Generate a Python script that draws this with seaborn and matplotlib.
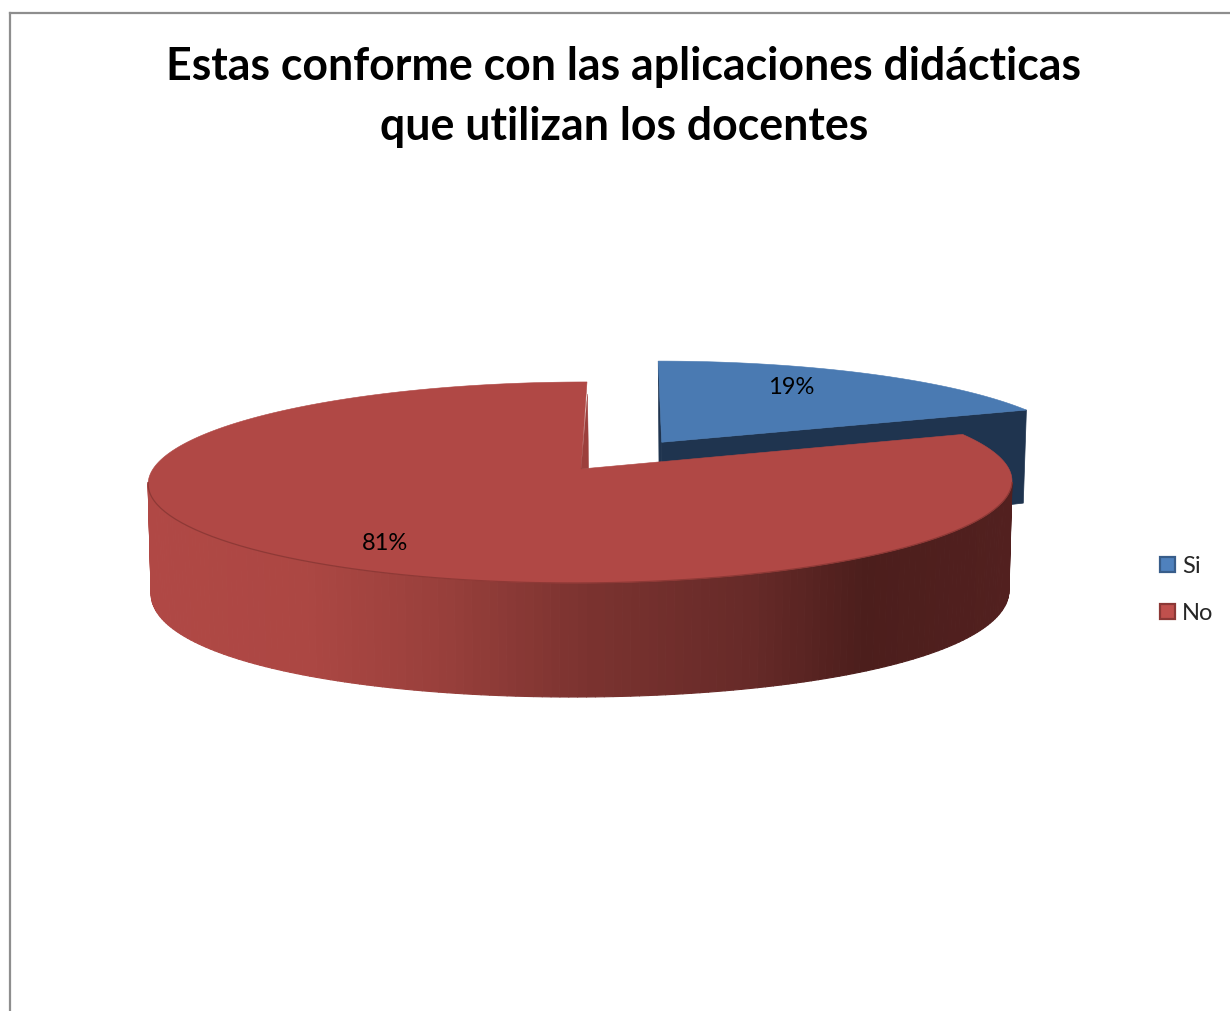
import numpy as np
import matplotlib
matplotlib.use("Agg")
import matplotlib.pyplot as plt
from matplotlib.collections import PolyCollection
from matplotlib.colors import LinearSegmentedColormap, Normalize
from matplotlib.patches import Patch, Polygon
import seaborn as sns

title_lines = ["Estas conforme con las aplicaciones didácticas",
               "que utilizan los docentes"]
categories = ["Si", "No"]
shares = [19, 81]

sns.set_theme(style="white")
plt.rcParams["font.family"] = ["Lato", "DejaVu Sans"]

top_colors = sns.color_palette(["#4A7AB2", "#B04845"])
legend_fill = sns.color_palette(["#4F81BD", "#C0504D"])
legend_edge = sns.color_palette(["#385D8A", "#8C3836"])
BLUE_SIDE = "#1F344F"
RED_EDGE = "#8E3936"
RED_SLIVER = "#9C3F3C"
FRAME = "#8E8E8E"

# Shading of the rim, from the left extreme of the disc to the right one
rim_stops = [(0.0, "#B04845"), (0.18, "#AC4743"), (0.33, "#9A403C"),
             (0.50, "#7C3330"), (0.70, "#662A28"), (0.83, "#4C1E1C"),
             (1.0, "#52201F")]
rim_cmap = LinearSegmentedColormap.from_list("rim", rim_stops)

# Perspective projection of the pie plane
CX, CY = 581.0, 469.0
RX, RY, SHEAR, PERSP = 428.0, 98.7, 6.8, 0.134
FLOOR_Y, FLOOR_RY, FLOOR_PERSP, FLOOR_SCALE = 576.4, 115.8, 0.04, 0.993
EXPLODE = 0.34


def project_top(u, v):
    w = 1 + PERSP * v
    return CX + (RX * u + SHEAR * v) / w, CY - RY * v / w


def project_floor(u, v):
    w = 1 + PERSP * v
    x = CX + FLOOR_SCALE * (RX * u + SHEAR * v) / w
    return x, FLOOR_Y - FLOOR_RY * v / (1 + FLOOR_PERSP * v)


fig = plt.figure(figsize=(12.3, 10.11), dpi=100, facecolor="white")
ax = fig.add_axes([10 / 1230, 0, 1220 / 1230, 998 / 1011])
ax.set_xlim(10, 1230)
ax.set_ylim(1011, 13)
ax.set_xticks([])
ax.set_yticks([])
sns.despine(ax=ax, top=False, right=True, left=False, bottom=True)
for side in ("left", "top"):
    ax.spines[side].set_color(FRAME)
    ax.spines[side].set_linewidth(1.6)

# Slice limits, measured clockwise from the back of the disc
fractions = np.cumsum([0] + shares) / sum(shares) * 2 * np.pi
blue_end = fractions[1]
mid = blue_end / 2
du, dv = EXPLODE * np.sin(mid), EXPLODE * np.cos(mid)

# Pulled-out "Si" slice: cut faces first, top face over them
apex_t = project_top(du, dv)
back_t = project_top(du, 1 + dv)
corner_t = project_top(du + np.sin(blue_end), dv + np.cos(blue_end))
apex_f = project_floor(du, dv)
corner_f = project_floor(du + np.sin(blue_end), dv + np.cos(blue_end))
ax.add_patch(Polygon([apex_t, corner_t, corner_f, apex_f],
                     closed=True, fc=BLUE_SIDE, ec=BLUE_SIDE, lw=0.5, zorder=2))
ax.add_patch(Polygon([back_t, apex_t, (apex_f[0] - 1.5, apex_f[1])],
                     closed=True, fc=BLUE_SIDE, ec=BLUE_SIDE, lw=0.5, zorder=2))
theta = np.linspace(0, blue_end, 80)
bx, by = project_top(du + np.sin(theta), dv + np.cos(theta))
ax.add_patch(Polygon(np.vstack([[apex_t], np.column_stack([bx, by])]),
                     closed=True, fc=top_colors[0], ec=top_colors[0], lw=0.4, zorder=3))

# Rim of the "No" slice as narrow shaded strips
right_extreme = np.arccos(-PERSP)
left_extreme = 2 * np.pi - right_extreme
theta = np.linspace(right_extreme, left_extreme, 160)
ux, vy = np.sin(theta), np.cos(theta)
tx, ty = project_top(ux, vy)
fx, fy = project_floor(ux, vy)
strips = [[(tx[i], ty[i]), (tx[i + 1], ty[i + 1]), (fx[i + 1], fy[i + 1]), (fx[i], fy[i])]
          for i in range(len(theta) - 1)]
rim = PolyCollection(strips, cmap=rim_cmap, norm=Normalize(tx.min(), tx.max()),
                     edgecolors="face", linewidths=0.8, zorder=4)
rim.set_array(0.5 * (tx[:-1] + tx[1:]))
ax.add_collection(rim)

# Top face of the "No" slice, its visible cut face and the front edge
theta = np.linspace(blue_end, 2 * np.pi, 300)
rx_, ry_ = project_top(np.sin(theta), np.cos(theta))
apex = project_top(0, 0)
ax.add_patch(Polygon(np.vstack([[apex], np.column_stack([rx_, ry_])]),
                     closed=True, fc=top_colors[1], ec=top_colors[1], lw=0.4, zorder=5))
chord_x = apex[0] + 0.02 * (rx_[0] - apex[0])
chord_y = apex[1] + 0.02 * (ry_[0] - apex[1])
ax.add_patch(Polygon([apex, (rx_[-1] + 0.5, ry_[-1] + 12), (chord_x, chord_y)],
                     closed=True, fc=RED_SLIVER, ec=RED_SLIVER, lw=0.3, zorder=6))
ax.plot(tx, ty, color=RED_EDGE, lw=0.9, zorder=6, solid_capstyle="round")

# Value labels
ax.text(791, 388, f"{shares[0]}%", ha="center", va="center",
        fontsize=17, color="black", zorder=8)
ax.text(385, 544, f"{shares[1]}%", ha="center", va="center",
        fontsize=17, color="black", zorder=8)

# Legend
handles = [Patch(facecolor=legend_fill[i], edgecolor=legend_edge[i], linewidth=1.6,
                 label=categories[i]) for i in range(len(categories))]
ax.legend(handles=handles, loc="center left", bbox_to_anchor=(1160, 590),
          bbox_transform=ax.transData, frameon=False, fontsize=17,
          handlelength=0.62, handleheight=0.62, handletextpad=0.3,
          labelspacing=1.1, borderpad=0, borderaxespad=0)

fig.suptitle("\n".join(title_lines), x=624 / 1230, y=1 - 97 / 1011, va="center",
             fontsize=32.1, fontweight="bold", color="black", linespacing=1.52)

fig.savefig("out.png", dpi=100)
